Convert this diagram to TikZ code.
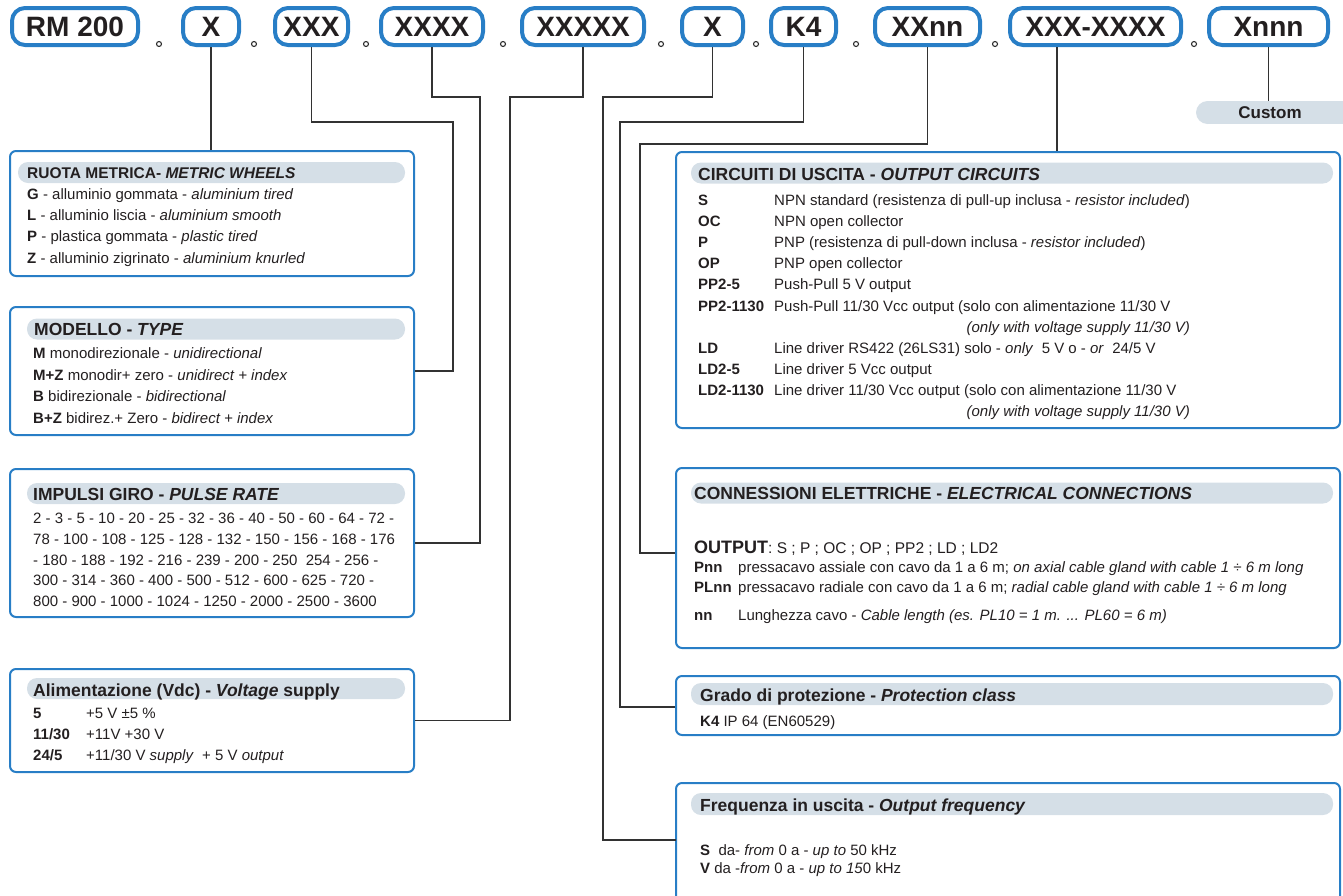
\documentclass[tikz,border=0pt]{standalone}
\usepackage{fontspec}
\setmainfont{Liberation Sans}
\definecolor{pblue}{RGB}{40,126,198}
\definecolor{hdr}{RGB}{213,223,231}
\definecolor{tc}{RGB}{35,31,32}
\definecolor{lc}{RGB}{50,50,50}
\tikzset{
  pill/.style={draw=pblue, line width=4pt, rounded corners=13pt, minimum height=37pt, inner sep=0pt, text=tc, font=\fontsize{28}{30}\selectfont\bfseries},
  panel/.style={draw=pblue, line width=2pt, rounded corners=6pt, inner sep=0pt},
  hdrbg/.style={fill=hdr, rounded corners=10pt, inner sep=0pt, minimum height=21pt},
  conn/.style={draw=lc, line width=1.3pt},
  dotc/.style={draw=lc, line width=1.1pt, fill=white, circle, inner sep=0pt, minimum size=5pt},
  txt/.style={anchor=base west, inner sep=0pt, text=tc, font=\fontsize{15}{18}\selectfont},
  txte/.style={anchor=base east, inner sep=0pt, text=tc, font=\fontsize{15}{18}\selectfont\itshape},
  hd/.style={anchor=base west, inner sep=0pt, text=tc, font=\fontsize{17.5}{20}\selectfont\bfseries},
}
\begin{document}
\begin{tikzpicture}[x=1pt,y=-1pt]
\useasboundingbox (0,0) rectangle (1343,895);

% ---- top code pills ----
\node[pill, minimum width=126] (p1) at (75,26.5) {RM 200};
\node[pill, minimum width=56] (p2) at (211,26.5) {X};
\node[pill, minimum width=73] (p3) at (311.5,26.5) {XXX};
\node[pill, minimum width=102] (p4) at (432,26.5) {XXXX};
\node[pill, minimum width=122] (p5) at (583,26.5) {XXXXX};
\node[pill, minimum width=61] (p6) at (712.5,26.5) {X};
\node[pill, minimum width=65] (p7) at (803.5,26.5) {K4};
\node[pill, minimum width=105] (p8) at (927.5,26.5) {XXnn};
\node[pill, minimum width=171] (p9) at (1095.5,26.5) {XXX-XXXX};
\node[pill, minimum width=119] (p10) at (1268.5,26.5) {Xnnn};

\node[dotc] (d1) at (159,44) {};
\node[dotc] (d2) at (254,44) {};
\node[dotc] (d3) at (366,44) {};
\node[dotc] (d4) at (503,44) {};
\node[dotc] (d5) at (661,44) {};
\node[dotc] (d6) at (756,44) {};
\node[dotc] (d7) at (856,44) {};
\node[dotc] (d8) at (995,44) {};
\node[dotc] (d9) at (1194,44) {};

% ---- Custom label ----
\fill[hdr] (1207.5,112.5) circle[radius=11.5];
\fill[hdr] (1207.5,101) rectangle (1343,124);
\node[inner sep=0pt, minimum height=23pt, text=tc, font=\fontsize{17}{20}\selectfont\bfseries] (custom) at (1270,112.5) {Custom};

% ---- left panels ----
\node[panel, minimum width=404, minimum height=125] (ruota) at (212,213.5) {};
\node[panel, minimum width=404, minimum height=128] (modello) at (212,371) {};
\node[panel, minimum width=404, minimum height=148] (impulsi) at (212,543) {};
\node[panel, minimum width=404, minimum height=103] (alim) at (212,720.5) {};

% ---- right panels ----
\node[panel, minimum width=664, minimum height=276] (circ) at (1008,290) {};
\node[panel, minimum width=664, minimum height=180] (elec) at (1008,558) {};
\node[panel, minimum width=664, minimum height=59] (grado) at (1008,705.5) {};
\draw[draw=pblue, line width=2pt, rounded corners=6pt] (676,896) -- (676,783) -- (1340,783) -- (1340,896);
\coordinate (freq) at (676,840);

% ---- header backgrounds ----
\node[hdrbg, minimum width=387] (hb1) at (211.5,172.5) {};
\node[hdrbg, minimum width=378] (hb2) at (216,329) {};
\node[hdrbg, minimum width=378] (hb3) at (216,493.5) {};
\node[hdrbg, minimum width=378] (hb4) at (216,688.5) {};
\node[hdrbg, minimum width=642] (hb5) at (1012,173) {};
\node[hdrbg, minimum width=642] (hb6) at (1012,493) {};
\node[hdrbg, minimum width=642, minimum height=22pt] (hb7) at (1012,694) {};
\node[hdrbg, minimum width=642, minimum height=22pt] (hb8) at (1012,804) {};

% ---- connectors ----
\draw[conn] (p2.south) -- (p2.south |- ruota.north);
\draw[conn] (p3.south) |- (453,122) |- (modello.east);
\draw[conn] (p4.south) |- (480,97) |- (impulsi.east);
\draw[conn] (p5.south) |- (510,97) |- (alim.east);
\draw[conn] (p6.south) |- (603,97) |- (freq);
\draw[conn] (p7.south) |- (620,122) |- ([yshift=-1.5pt]grado.west);
\draw[conn] (p8.south) |- (640,144) |- ([yshift=5pt]elec.west);
\draw[conn] ([xshift=-38.5pt]p9.south) -- ([xshift=-38.5pt]p9.south |- circ.north);
\draw[conn] (p10.south) -- (p10.south |- custom.north);

% ---- RUOTA ----
\node[hd, font=\fontsize{15.5}{18}\selectfont\bfseries] (t1) at (27,178.5) {RUOTA METRICA- \textit{METRIC WHEELS}};
\node[txt] (t1a) at (27,199.5) {\textbf{G} - alluminio gommata - \textit{aluminium tired}};
\node[txt] (t1b) at (27,220.7) {\textbf{L} - alluminio liscia - \textit{aluminium smooth}};
\node[txt] (t1c) at (27,241.9) {\textbf{P} - plastica gommata - \textit{plastic tired}};
\node[txt] (t1d) at (27,263.1) {\textbf{Z} - alluminio zigrinato - \textit{aluminium knurled}};

% ---- MODELLO ----
\node[hd] (t2) at (34,335.5) {MODELLO - \textit{TYPE}};
\node[txt] (t2a) at (33,358.5) {\textbf{M} monodirezionale - \textit{unidirectional}};
\node[txt] (t2b) at (33,380) {\textbf{M+Z} monodir+ zero - \textit{unidirect + index}};
\node[txt] (t2c) at (33,401.5) {\textbf{B} bidirezionale - \textit{bidirectional}};
\node[txt] (t2d) at (33,423) {\textbf{B+Z} bidirez.+ Zero - \textit{bidirect + index}};

% ---- IMPULSI ----
\node[hd] (t3) at (33,500) {IMPULSI GIRO - \textit{PULSE RATE}};
\node[txt] (t3a) at (33,523.5) {2 - 3 - 5 - 10 - 20 - 25 - 32 - 36 - 40 - 50 - 60 - 64 - 72 -};
\node[txt] (t3b) at (33,544.3) {78 - 100 - 108 - 125 - 128 - 132 - 150 - 156 - 168 - 176};
\node[txt] (t3c) at (33,565) {- 180 - 188 - 192 - 216 - 239 - 200 - 250\ \ 254 - 256 -};
\node[txt] (t3d) at (33,585.7) {300 - 314 - 360 - 400 - 500 - 512 - 600 - 625 - 720 -};
\node[txt] (t3e) at (33,606.5) {800 - 900 - 1000 - 1024 - 1250 - 2000 - 2500 - 3600};

% ---- ALIMENTAZIONE ----
\node[hd] (t4) at (33,696) {Alimentazione (Vdc) - \textit{Voltage} supply};
\node[txt] (t4a) at (33,718.5) {\textbf{5}};
\node[txt] (t4av) at (86,718.5) {+5 V ±5 \%};
\node[txt] (t4b) at (33,739.5) {\textbf{11/30}};
\node[txt] (t4bv) at (86,739.5) {+11V +30 V};
\node[txt] (t4c) at (33,760.5) {\textbf{24/5}};
\node[txt] (t4cv) at (86,760.5) {+11/30 V \textit{supply}\ \ + 5 V \textit{output}};

% ---- CIRCUITI ----
\node[hd] (t5) at (698,180) {CIRCUITI DI USCITA - \textit{OUTPUT CIRCUITS}};
\node[txt] (c1l) at (698,205.5) {\textbf{S}};
\node[txt] (c1v) at (774,205.5) {NPN standard (resistenza di pull-up inclusa - \textit{resistor included})};
\node[txt] (c2l) at (698,226.6) {\textbf{OC}};
\node[txt] (c2v) at (774,226.6) {NPN open collector};
\node[txt] (c3l) at (698,247.7) {\textbf{P}};
\node[txt] (c3v) at (774,247.7) {PNP (resistenza di pull-down inclusa - \textit{resistor included})};
\node[txt] (c4l) at (698,268.8) {\textbf{OP}};
\node[txt] (c4v) at (774,268.8) {PNP open collector};
\node[txt] (c5l) at (698,289.9) {\textbf{PP2-5}};
\node[txt] (c5v) at (774,289.9) {Push-Pull 5 V output};
\node[txt] (c6l) at (698,311) {\textbf{PP2-1130}};
\node[txt] (c6v) at (774,311) {Push-Pull 11/30 Vcc output (solo con alimentazione 11/30 V};
\node[txte] (c6w) at (1190,332.1) {(only with voltage supply 11/30 V)};
\node[txt] (c7l) at (698,353.2) {\textbf{LD}};
\node[txt] (c7v) at (774,353.2) {Line driver RS422 (26LS31) solo - \textit{only}\ \ 5 V o - \textit{or}\ \ 24/5 V};
\node[txt] (c8l) at (698,374.3) {\textbf{LD2-5}};
\node[txt] (c8v) at (774,374.3) {Line driver 5 Vcc output};
\node[txt] (c9l) at (698,395.4) {\textbf{LD2-1130}};
\node[txt] (c9v) at (774,395.4) {Line driver 11/30 Vcc output (solo con alimentazione 11/30 V};
\node[txte] (c9w) at (1190,416.5) {(only with voltage supply 11/30 V)};

% ---- CONNESSIONI ----
\node[hd] (t6) at (694,499) {CONNESSIONI ELETTRICHE - \textit{ELECTRICAL CONNECTIONS}};
\node[txt] (e1) at (694,553) {{\fontsize{18}{20}\selectfont\bfseries OUTPUT}{\fontsize{15.5}{18}\selectfont: S ; P ; OC ; OP ; PP2 ; LD ; LD2}};
\node[txt] (e2l) at (694,572.5) {\textbf{Pnn}};
\node[txt] (e2v) at (738,572.5) {pressacavo assiale con cavo da 1 a 6 m; \textit{on axial cable gland with cable 1 ÷ 6 m long}};
\node[txt] (e3l) at (694,592.5) {\textbf{PLnn}};
\node[txt] (e3v) at (738,592.5) {pressacavo radiale con cavo da 1 a 6 m; \textit{radial cable gland with cable 1 ÷ 6 m long}};
\node[txt] (e4l) at (694,620.5) {\textbf{nn}};
\node[txt] (e4v) at (738,620.5) {Lunghezza cavo - \textit{Cable length (es. PL10 = 1 m. ... PL60 = 6 m)}};

% ---- GRADO ----
\node[hd] (t7) at (700,701) {Grado di protezione - \textit{Protection class}};
\node[txt] (g1) at (700,726) {\textbf{K4} IP 64 (EN60529)};

% ---- FREQUENZA ----
\node[hd] (t8) at (700,811) {Frequenza in uscita - \textit{Output frequency}};
\node[txt] (f1) at (700,855.5) {\textbf{S}\ \ da- \textit{from} 0 a - \textit{up to} 50 kHz};
\node[txt] (f2) at (700,873.8) {\textbf{V} da -\textit{from} 0 a - \textit{up to 15}0 kHz};
\end{tikzpicture}
\end{document}
